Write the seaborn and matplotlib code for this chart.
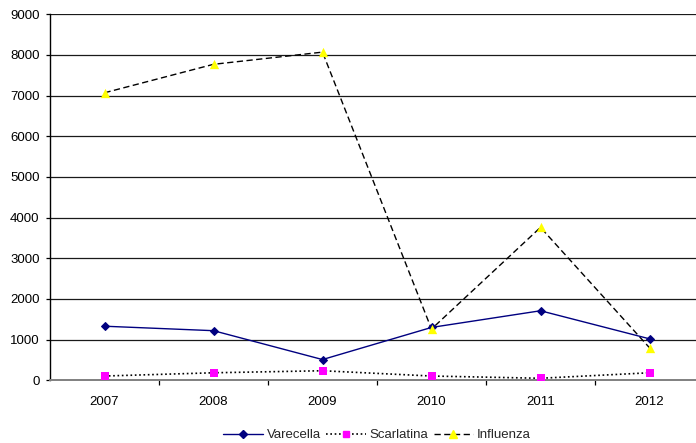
import numpy as np
import pandas as pd
import matplotlib
matplotlib.use("Agg")
import matplotlib.pyplot as plt
from matplotlib.lines import Line2D
import seaborn as sns

years = ["2007", "2008", "2009", "2010", "2011", "2012"]
varecella = [1330, 1220, 510, 1300, 1710, 1020]
scarlatina = [105, 185, 235, 105, 50, 185]
influenza = [7070, 7770, 8070, 1260, 3760, 800]

sns.set_style("white")
plt.rcParams["font.family"] = ["Liberation Sans", "DejaVu Sans"]

fig = plt.figure(figsize=(6.96, 4.43), dpi=100)
ax = fig.add_axes([50 / 696, 62.7 / 443, 654 / 696, 366 / 443])

x = np.arange(len(years))
df = pd.DataFrame({"x": x, "Varecella": varecella,
                   "Scarlatina": scarlatina, "Influenza": influenza})

# horizontal grid
for v in range(1000, 10000, 1000):
    ax.axhline(v, color="#1a1a1a", lw=0.9, zorder=0)

# Varecella: solid navy line with diamonds
sns.lineplot(data=df, x="x", y="Varecella", ax=ax, color="#000080", lw=1.0,
             marker="D", markersize=4.5, markeredgecolor="#000080", zorder=4)

# Scarlatina: dotted black line, magenta squares
sns.lineplot(data=df, x="x", y="Scarlatina", ax=ax, color="black", lw=1.2,
             zorder=3).lines[-1].set_dashes((1.0, 1.6))
sns.scatterplot(data=df, x="x", y="Scarlatina", ax=ax, marker="s", s=30,
                color="#FF00FF", edgecolor="#FF00FF", linewidth=0, zorder=5)

# Influenza: dashed black line, yellow triangles
sns.lineplot(data=df, x="x", y="Influenza", ax=ax, color="black", lw=1.0,
             zorder=3).lines[-1].set_dashes((4.5, 2.5))
sns.scatterplot(data=df, x="x", y="Influenza", ax=ax, marker="^", s=45,
                color="#FFFF00", edgecolor="#FFFF00", linewidth=0, zorder=5)

ax.set_xlim(-0.5, len(years) - 0.5)
ax.set_ylim(0, 9000)
ax.set_yticks(range(0, 10000, 1000))
ax.set_xticks(x)
ax.set_xticklabels(years)
ax.set_xticks(np.arange(0.5, len(years) - 0.5, 1.0), minor=True)
ax.set_xlabel("")
ax.set_ylabel("")

for s in ["top", "right"]:
    ax.spines[s].set_visible(False)
ax.spines["left"].set_color("black")
ax.spines["left"].set_linewidth(1.0)
ax.spines["bottom"].set_color("#808080")
ax.spines["bottom"].set_linewidth(1.4)

ax.tick_params(axis="y", which="major", left=True, length=3, width=0.9,
               color="black", pad=4.5, labelsize=9.5, labelcolor="black")
ax.tick_params(axis="x", which="major", bottom=False, length=0, pad=11,
               labelsize=9.5, labelcolor="black")
ax.tick_params(axis="x", which="minor", bottom=True, length=3.5, width=0.9,
               color="black")

handles = [
    Line2D([], [], color="#000080", lw=1.0, marker="D", markersize=4.5),
    Line2D([], [], color="black", lw=1.2, dashes=(1.0, 1.6), marker="s",
           markersize=5, markerfacecolor="#FF00FF", markeredgecolor="#FF00FF"),
    Line2D([], [], color="black", lw=1.0, dashes=(4.5, 2.5), marker="^",
           markersize=6, markerfacecolor="#FFFF00", markeredgecolor="#FFFF00"),
]
fig.legend(handles, ["Varecella", "Scarlatina", "Influenza"],
           loc="center", bbox_to_anchor=(377 / 696, 1 - 435 / 443), ncol=3,
           frameon=False, fontsize=9.5, handlelength=3.0, handletextpad=0.3,
           columnspacing=0.4)

fig.savefig("out.png", dpi=100)
